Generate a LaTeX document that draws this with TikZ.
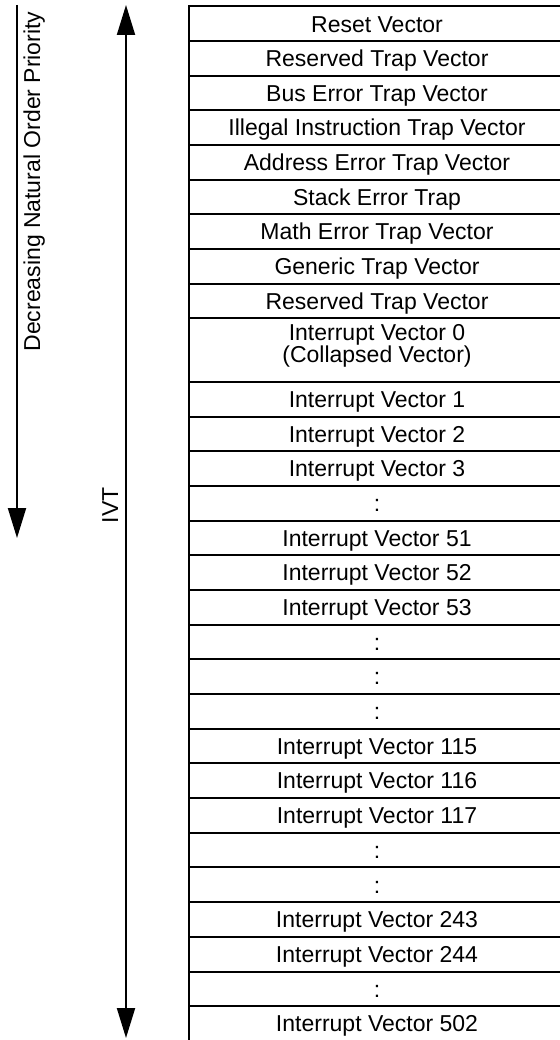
\documentclass[tikz,border=0pt]{standalone}
\usepackage{fontspec}
\setmainfont{Liberation Sans}
\usetikzlibrary{arrows.meta,calc}
\begin{document}
\begin{tikzpicture}[x=1pt,y=-1pt,line width=2pt,
  txt/.style={font=\fontsize{23}{21}\selectfont},
  row/.style={txt,draw,line width=2pt,minimum width=376pt,minimum height=34.65pt,
    inner sep=0pt,outer sep=0pt,text height=16.4pt,text depth=0pt,anchor=north west},
  rowb/.style={row,minimum height=34.68pt},
  arrowline/.style={line width=2pt,-{Triangle[width=18pt,length=30pt]}},
  arrowboth/.style={line width=2pt,{Triangle[width=18pt,length=30pt]}-{Triangle[width=18pt,length=30pt]}},
  sidelabel/.style={txt,rotate=90,anchor=base,inner sep=0pt}]
\useasboundingbox (0,0) rectangle (559,1040);
% upper rows
\node[row] (r0) at (189,6.5) {Reset Vector};
\node[row] (r1) at (r0.south west) {Reserved Trap Vector};
\node[row] (r2) at (r1.south west) {Bus Error Trap Vector};
\node[row] (r3) at (r2.south west) {Illegal Instruction Trap Vector};
\node[row] (r4) at (r3.south west) {Address Error Trap Vector};
\node[row] (r5) at (r4.south west) {Stack Error Trap};
\node[row] (r6) at (r5.south west) {Math Error Trap Vector};
\node[row] (r7) at (r6.south west) {Generic Trap Vector};
\node[row] (r8) at (r7.south west) {Reserved Trap Vector};
\node[row,minimum height=63.6pt] (iv0) at (r8.south west) {};
\node[txt,align=center,anchor=north,inner sep=0pt] (iv0t) at ($(iv0.north)+(0,4.6)$) {Interrupt Vector 0\\(Collapsed Vector)};
% lower rows
\node[rowb] (s1) at (iv0.south west) {Interrupt Vector 1};
\node[rowb] (s2) at (s1.south west) {Interrupt Vector 2};
\node[rowb] (s3) at (s2.south west) {Interrupt Vector 3};
\node[rowb] (s4) at (s3.south west) {:};
\node[rowb] (s5) at (s4.south west) {Interrupt Vector 51};
\node[rowb] (s6) at (s5.south west) {Interrupt Vector 52};
\node[rowb] (s7) at (s6.south west) {Interrupt Vector 53};
\node[rowb] (s8) at (s7.south west) {:};
\node[rowb] (s9) at (s8.south west) {:};
\node[rowb] (s10) at (s9.south west) {:};
\node[rowb] (s11) at (s10.south west) {Interrupt Vector 115};
\node[rowb] (s12) at (s11.south west) {Interrupt Vector 116};
\node[rowb] (s13) at (s12.south west) {Interrupt Vector 117};
\node[rowb] (s14) at (s13.south west) {:};
\node[rowb] (s15) at (s14.south west) {:};
\node[rowb] (s16) at (s15.south west) {Interrupt Vector 243};
\node[rowb] (s17) at (s16.south west) {Interrupt Vector 244};
\node[rowb] (s18) at (s17.south west) {:};
\node[rowb] (s19) at (s18.south west) {Interrupt Vector 502};
% arrows
\coordinate (pa) at (17,5);
\coordinate (pb) at (17,538);
\coordinate (ia) at (126,5);
\coordinate (ib) at (126,1038);
\draw[arrowline] (pa) -- (pb);
\draw[arrowboth] (ia) -- (ib);
% labels
\node[sidelabel] (dec) at (40,181.5) {Decreasing Natural Order Priority};
\node[sidelabel] (ivt) at (118,505.5) {IVT};
\end{tikzpicture}
\end{document}
